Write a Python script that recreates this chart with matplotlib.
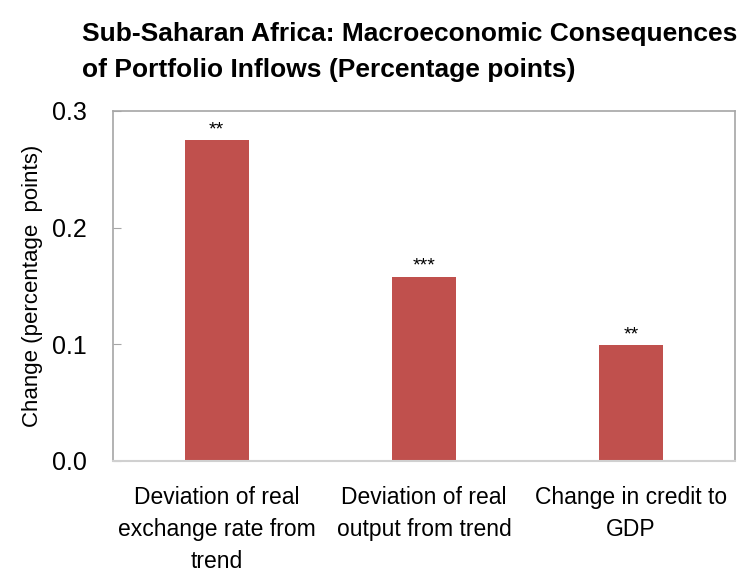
import matplotlib
matplotlib.use("Agg")
import matplotlib.pyplot as plt
from matplotlib import font_manager

names = {f.name for f in font_manager.fontManager.ttflist}
fam = "Liberation Sans Narrow" if "Liberation Sans Narrow" in names else "Liberation Sans"
plt.rcParams['font.family'] = [fam, 'DejaVu Sans']

categories = ["Deviation of real\nexchange rate from\ntrend",
              "Deviation of real\noutput from trend",
              "Change in credit to\nGDP"]
values = [0.275, 0.158, 0.099]
stars = ["**", "***", "**"]
yticks = [0.0, 0.1, 0.2, 0.3]
title = "Sub-Saharan Africa: Macroeconomic Consequences\nof Portfolio Inflows (Percentage points)"
ylabel = "Change (percentage  points)"

fig = plt.figure(figsize=(7.4, 5.73), dpi=100)
ax = fig.add_axes([0.1527, 0.1955, 0.8403, 0.6108])
x = list(range(len(categories)))
bars = ax.bar(x, values, width=0.31, color="#C0504D", zorder=2)
for xi, v, s in zip(x, values, stars):
    ax.text(xi, v + 0.0015, s, ha="center", va="bottom", fontsize=14)
ax.set_xlim(-0.5, 2.5)
ax.set_ylim(0, 0.3)
ax.set_yticks(yticks)
ax.set_yticklabels([f"{t:.1f}" for t in yticks], fontsize=18)
ax.set_xticks(x)
ax.set_xticklabels(categories, fontsize=16.5, linespacing=1.5)
ax.tick_params(axis='x', length=0, pad=18)
ax.tick_params(axis='y', direction='in', length=6, color="#a6a6a6", pad=19)
for side in ["left", "top", "right"]:
    ax.spines[side].set_color("#a6a6a6")
    ax.spines[side].set_linewidth(1.2)
ax.spines["bottom"].set_color("#d0d0d0")
ax.spines["bottom"].set_linewidth(1.5)
ax.set_ylabel(ylabel, fontsize=16, labelpad=6)
fig.text(0.111, 0.962, title, fontsize=19, fontweight="bold", ha="left", va="top", linespacing=1.65)
fig.savefig("out.png", dpi=100)
